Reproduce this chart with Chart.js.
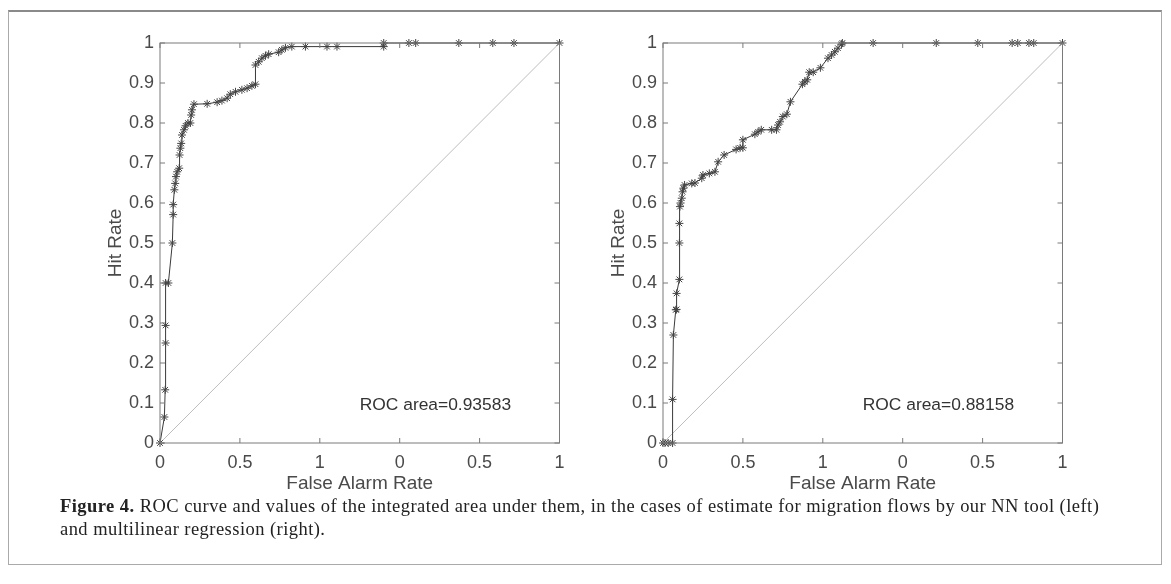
<!DOCTYPE html>
<html>
<head>
<meta charset="utf-8">
<script src="https://cdn.jsdelivr.net/npm/chart.js@4"></script>
<style>
  body { margin: 0; background: #fff; width: 1171px; height: 584px; position: relative; overflow: hidden; }
  #frame { position: absolute; left: 8px; top: 10px; width: 1154px; height: 555px; border: 1px solid #aaa; border-top: 2px solid #8a8a8a; box-sizing: border-box; }
  canvas { position: absolute; top: 20px; }
  #c1 { left: 60px; }
  #c2 { left: 563px; }
  #caption { position: absolute; left: 60px; top: 495px; font-family: "Liberation Serif", "DejaVu Serif", serif; font-size: 18.5px; letter-spacing: 0.45px; line-height: 23px; color: #222; white-space: nowrap; }
</style>
</head>
<body>
<div id="frame"></div>
<canvas id="c1" width="520" height="490"></canvas>
<canvas id="c2" width="520" height="490"></canvas>
<div id="caption"><b>Figure 4.</b> ROC curve and values of the integrated area under them, in the cases of estimate for migration flows by our NN tool (left)<br>and multilinear regression (right).</div>
<script>
// ejes
const xTickValues = [0, 0.2, 0.4, 0.6, 0.8, 1];
const xTickLabels = ["0", "0.5", "1", "0", "0.5", "1"];
const yTickValues = [0, 0.1, 0.2, 0.3, 0.4, 0.5, 0.6, 0.7, 0.8, 0.9, 1];
const yTickLabels = ["0", "0.1", "0.2", "0.3", "0.4", "0.5", "0.6", "0.7", "0.8", "0.9", "1"];

// curva ROC izquierda (NN)
const leftFar = [0, 0.011, 0.013, 0.014, 0.014, 0.014, 0.021, 0.031, 0.033, 0.033, 0.036, 0.038, 0.04, 0.043, 0.048,
  0.049, 0.051, 0.053, 0.055, 0.06, 0.064, 0.07, 0.076, 0.078, 0.08, 0.085, 0.118, 0.143, 0.155, 0.168, 0.176,
  0.189, 0.205, 0.218, 0.23, 0.239, 0.239, 0.247, 0.255, 0.264, 0.272, 0.297, 0.305, 0.314, 0.33, 0.364, 0.418,
  0.443, 0.56, 0.56, 0.623, 0.64, 0.748, 0.833, 0.886, 1];
const leftHit = [0, 0.065, 0.133, 0.25, 0.294, 0.4, 0.4, 0.5, 0.571, 0.596, 0.633, 0.649, 0.666, 0.678, 0.687,
  0.72, 0.737, 0.749, 0.77, 0.783, 0.793, 0.8, 0.8, 0.82, 0.833, 0.847, 0.848, 0.852, 0.856, 0.862, 0.872,
  0.878, 0.883, 0.887, 0.893, 0.897, 0.945, 0.953, 0.962, 0.968, 0.972, 0.977, 0.983, 0.988, 0.991, 0.991, 0.991,
  0.991, 0.991, 1, 1, 1, 1, 1, 1, 1];

// curva ROC derecha (regresión multilineal)
const rightFar = [0, 0.005, 0.013, 0.024, 0.024, 0.026, 0.032, 0.034, 0.034, 0.041, 0.041, 0.041, 0.0425, 0.044,
  0.047, 0.049, 0.051, 0.054, 0.072, 0.08, 0.097, 0.1, 0.116, 0.13, 0.138, 0.153, 0.183, 0.193, 0.2, 0.2, 0.23,
  0.238, 0.246, 0.272, 0.284, 0.288, 0.293, 0.3, 0.31, 0.319, 0.349, 0.355, 0.361, 0.366, 0.376, 0.394, 0.413,
  0.422, 0.43, 0.438, 0.447, 0.449, 0.526, 0.684, 0.788, 0.874, 0.888, 0.916, 0.928, 1];
const rightHit = [0, 0, 0, 0, 0.109, 0.27, 0.333, 0.334, 0.374, 0.409, 0.5, 0.549, 0.591, 0.6,
  0.612, 0.628, 0.637, 0.645, 0.649, 0.65, 0.662, 0.67, 0.674, 0.678, 0.703, 0.72, 0.734, 0.738, 0.738, 0.758, 0.772,
  0.778, 0.783, 0.783, 0.783, 0.795, 0.803, 0.816, 0.822, 0.853, 0.897, 0.903, 0.908, 0.927, 0.927, 0.938, 0.962,
  0.97, 0.978, 0.987, 0.997, 1, 1, 1, 1, 1, 1, 1, 1, 1];

const diagonal = [0, 1];
const areaLabels = ["ROC area=0.93583", "ROC area=0.88158"];

const axisColor = "#7a7a7a";
const textColor = "#4a4a4a";

// marco y ticks hacia dentro, estilo matlab
const boxPlugin = {
  id: "box",
  afterDraw(chart, args, opts) {
    const { ctx, chartArea: a, scales } = chart;
    ctx.save();
    ctx.strokeStyle = axisColor;
    ctx.lineWidth = 1;
    ctx.strokeRect(a.left, a.top, a.right - a.left, a.bottom - a.top);
    ctx.beginPath();
    xTickValues.forEach(v => {
      const px = scales.x.getPixelForValue(v);
      ctx.moveTo(px, a.bottom); ctx.lineTo(px, a.bottom - 5);
      ctx.moveTo(px, a.top); ctx.lineTo(px, a.top + 5);
    });
    yTickValues.forEach(v => {
      const py = scales.y.getPixelForValue(v);
      ctx.moveTo(a.left, py); ctx.lineTo(a.left + 5, py);
      ctx.moveTo(a.right, py); ctx.lineTo(a.right - 5, py);
    });
    ctx.stroke();
    // texto del área
    ctx.fillStyle = "#333";
    ctx.font = "17.4px 'Liberation Sans', Arial, sans-serif";
    ctx.textBaseline = "middle";
    ctx.fillText(opts.text, scales.x.getPixelForValue(0.5), scales.y.getPixelForValue(0.095));
    ctx.restore();
  }
};

function makeChart(id, far, hit, text) {
  const ctx = document.getElementById(id).getContext("2d");
  return new Chart(ctx, {
    type: "scatter",
    data: {
      datasets: [
        {
          data: far.map((x, i) => ({ x, y: hit[i] })),
          showLine: true,
          borderColor: "#3a3a3a",
          borderWidth: 1,
          pointStyle: "star",
          pointRadius: 4,
          pointBorderColor: "#444",
          pointBorderWidth: 1,
          tension: 0,
          clip: false
        },
        {
          data: diagonal.map(v => ({ x: v, y: v })),
          showLine: true,
          borderColor: "#bdbdbd",
          borderWidth: 1,
          pointRadius: 0
        }
      ]
    },
    options: {
      responsive: false,
      animation: false,
      devicePixelRatio: 1,
      layout: { padding: { top: 23, right: 20.5, left: 0, bottom: 0 } },
      plugins: { legend: { display: false }, tooltip: { enabled: false }, box: { text } },
      scales: {
        x: {
          min: 0, max: 1,
          afterBuildTicks: s => { s.ticks = xTickValues.map(v => ({ value: v })); },
          afterFit: s => { s.height = 67; },
          grid: { display: false, drawTicks: false },
          border: { display: false },
          ticks: {
            padding: 9,
            color: textColor,
            font: { family: "'Liberation Sans', Arial, sans-serif", size: 18 },
            maxRotation: 0,
            autoSkip: false,
            callback: (v, i) => xTickLabels[i]
          },
          title: {
            display: true, text: "False Alarm Rate", color: textColor,
            font: { family: "'Liberation Sans', Arial, sans-serif", size: 19 },
            padding: { top: 0, bottom: 15 }
          }
        },
        y: {
          min: 0, max: 1,
          afterBuildTicks: s => { s.ticks = yTickValues.map(v => ({ value: v })); },
          afterFit: s => { s.width = 100; },
          grid: { display: false, drawTicks: false },
          border: { display: false },
          ticks: {
            padding: 6,
            color: textColor,
            font: { family: "'Liberation Sans', Arial, sans-serif", size: 18 },
            autoSkip: false,
            callback: (v, i) => yTickLabels[i]
          },
          title: {
            display: true, text: "Hit Rate", color: textColor,
            font: { family: "'Liberation Sans', Arial, sans-serif", size: 19 },
            padding: { top: 44, bottom: 0 }
          }
        }
      }
    },
    plugins: [boxPlugin]
  });
}

makeChart("c1", leftFar, leftHit, areaLabels[0]);
makeChart("c2", rightFar, rightHit, areaLabels[1]);
</script>
</body>
</html>
